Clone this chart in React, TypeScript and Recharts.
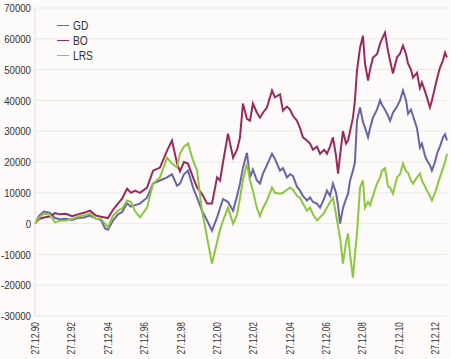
import { LineChart, Line, XAxis, YAxis, CartesianGrid } from 'recharts';

// years since 27.12.1990
const years = [
  0, 0.22, 0.49, 0.82, 1.1, 1.37, 1.7, 2.03, 2.36, 2.69, 3.02, 3.35, 3.63, 3.85, 4.01, 4.29, 4.56, 4.78,
  5.06, 5.28, 5.5, 5.77, 6.16, 6.49, 6.87, 7.26, 7.53, 7.81, 7.97, 8.19, 8.41, 8.69, 8.91, 9.18, 9.46,
  9.73, 10.01, 10.17, 10.34, 10.61, 10.89, 11.11, 11.27, 11.43, 11.65, 11.82, 11.98, 12.2, 12.37, 12.53,
  12.75, 13.03, 13.19, 13.47, 13.63, 13.85, 14.02, 14.18, 14.4, 14.57, 14.73, 14.95, 15.12, 15.28, 15.5,
  15.67, 15.89, 16.05, 16.22, 16.38, 16.55, 16.66, 16.77, 16.93, 17.1, 17.21, 17.32, 17.48, 17.59, 17.7,
  17.87, 18.03, 18.14, 18.31, 18.42, 18.58, 18.8, 18.97, 19.08, 19.24, 19.41, 19.52, 19.68, 19.9, 20.07,
  20.23, 20.4, 20.51, 20.67, 20.78, 21.0, 21.16, 21.27, 21.44, 21.55, 21.71, 21.82, 21.99, 22.1, 22.26,
  22.43, 22.54, 22.65,
];

const gd = [
  0, 2500, 3900, 3500, 1800, 1400, 1600, 1200, 1800, 2000, 2600, 1600, 1200, -1600, -2000, 1000, 3000, 3700,
  6500, 5500, 6000, 6500, 8400, 13000, 14000, 15000, 16000, 12300, 13000, 16000, 17200, 11700, 8400, 4200, 1000,
  -2300, 2000, 5000, 8000, 7000, 4200, 9000, 13000, 18000, 23000, 15000, 17500, 14000, 13000, 16200,
  19000, 22700, 21000, 17200, 18000, 15000, 16000, 15500, 12000, 10700, 9000, 7500, 8500, 7000, 6500,
  5200, 8000, 10700, 9000, 13000, 10000, 6000, 0, 5000, 8000, 9700, 14000, 17200, 20000, 33400,
  37700, 33000, 31200, 28000, 31000, 34400, 37000, 40000, 38500, 37000, 35000, 33400, 36000, 38000, 40000,
  43200, 40000, 35700, 37000, 35000, 31000, 24700, 26000, 22000, 20500, 19000, 17200, 20000, 22700, 25000,
  28000, 29000, 27000,
];

const bo = [
  0, 1500, 2000, 2300, 3400, 3000, 3200, 2400, 3000, 3500, 4200, 2600, 2200, 2000, 1800, 4500, 6500, 8000,
  11300, 10000, 10700, 10000, 11700, 17200, 18200, 23700, 27000, 19500, 17000, 20000, 19500, 15000, 11700, 9700, 6500,
  6500, 15000, 14000, 20000, 29200, 21400, 24000, 28000, 39000, 34000, 33400, 39000, 36000, 34400, 36000,
  37700, 43200, 41000, 42000, 36700, 38000, 37000, 35000, 33400, 31000, 28000, 27000, 26000, 24000, 25000,
  22700, 24000, 22700, 25000, 28000, 22000, 16200, 22000, 30000, 26000, 27000, 30000, 34400, 40000, 49700,
  57100, 61000, 52000, 46400, 50000, 53900, 55000, 58400, 60000, 62000, 56000, 52900, 48700, 54000, 55200,
  57800, 55000, 51900, 50000, 47400, 49000, 44000, 45800, 43000, 40900, 37700, 40000, 44200, 47000, 50600,
  53000, 55500, 54000,
];

const lrs = [
  0, 2000, 3300, 2800, 400, 900, 1000, 1500, 2200, 2600, 3300, 1600, 1500, 0, -1200, 2500, 4200, 4900,
  7500, 7000, 4000, 2000, 5200, 13000, 15000, 21400, 19500, 18200, 22700, 25000, 26000, 20500, 17200, 4200, -4500,
  -13000, -6000, -2000, 1000, 5200, 0, 3000, 8400, 14000, 19500, 14000, 10700, 5000, 2500, 5000,
  7500, 11700, 10000, 9700, 10000, 11000, 11700, 11000, 9000, 8400, 6500, 4200, 5200, 3000, 1000,
  2000, 3500, 5200, 7000, 8400, 3000, -1000, -4500, -13000, -6000, -3200, -10000, -17500, -10000, -3200,
  11700, 14000, 5200, 7000, 6000, 9000, 13000, 15000, 17200, 18000, 12000, 11700, 9700, 15000, 16000,
  19500, 17000, 16500, 14000, 13000, 15000, 16200, 14000, 12000, 10700, 9000, 7500, 10000, 12000, 15000,
  18000, 20000, 22700,
];

const xTicks = [0, 2, 4, 6, 8, 10, 12, 14, 16, 18, 20, 22];
const xLabels = ['27.12.90', '27.12.92', '27.12.94', '27.12.96', '27.12.98', '27.12.00', '27.12.02', '27.12.04', '27.12.06', '27.12.08', '27.12.10', '27.12.12'];
const yTicks = [-30000, -20000, -10000, 0, 10000, 20000, 30000, 40000, 50000, 60000, 70000];

const series = [
  { key: 'GD', values: gd, color: '#6a64a6' },
  { key: 'BO', values: bo, color: '#9a2a5c' },
  { key: 'LRS', values: lrs, color: '#8dc641' },
];

const font = "'Liberation Sans', Arial, sans-serif";

const data = years.map((t, i) => ({ t, GD: gd[i], BO: bo[i], LRS: lrs[i] }));

// narrow look: squeeze Liberation Sans horizontally
function XTick({ x, y, payload }: any) {
  const label = xLabels[xTicks.indexOf(payload.value)];
  return (
    <g transform={`translate(${x + 4} ${y - 2}) rotate(-90) scale(0.76 1)`}>
      <text x={0} y={0} textAnchor="end" fontSize={11} fill="#333" fontFamily={font}>
        {label}
      </text>
    </g>
  );
}

function YTick({ x, y, payload }: any) {
  return (
    <g transform={`translate(${x + 6} ${y}) scale(0.84 1)`}>
      <text x={0} y={0} dy="0.36em" textAnchor="end" fontSize={11.5} fill="#333" fontFamily={font}>
        {payload.value}
      </text>
    </g>
  );
}

export default function App() {
  return (
    <div style={{ position: 'absolute', left: 0, top: 0, width: 451, height: 359, background: '#fcfbf9' }}>
      <LineChart width={451} height={359} data={data} margin={{ top: 8, right: 4, left: 0, bottom: 0 }}>
        <CartesianGrid stroke="#ece9e4" vertical={false} />
        <XAxis
          dataKey="t"
          type="number"
          domain={[0, 22.65]}
          ticks={xTicks}
          tick={<XTick />}
          tickLine={false}
          axisLine={false}
          height={43}
          interval={0}
        />
        <YAxis
          domain={[-30000, 70000]}
          ticks={yTicks}
          width={35}
          tick={<YTick />}
          tickLine={false}
          tickMargin={4}
          axisLine={{ stroke: '#ecdcdc' }}
          interval={0}
        />
        {series.map(s => (
          <Line
            key={s.key}
            type="linear"
            dataKey={s.key}
            stroke={s.color}
            strokeWidth={2}
            dot={false}
            isAnimationActive={false}
          />
        ))}
      </LineChart>
      <div style={{ position: 'absolute', left: 57, top: 18, fontFamily: font, fontSize: 12, color: '#333' }}>
        {series.map(s => (
          <div key={s.key} style={{ display: 'flex', alignItems: 'center', height: 15 }}>
            <span style={{ display: 'inline-block', width: 12, height: 1.5, background: s.color, marginRight: 4 }} />
            <span style={{ display: 'inline-block', transform: 'scaleX(0.85)', transformOrigin: 'left center' }}>{s.key}</span>
          </div>
        ))}
      </div>
    </div>
  );
}
